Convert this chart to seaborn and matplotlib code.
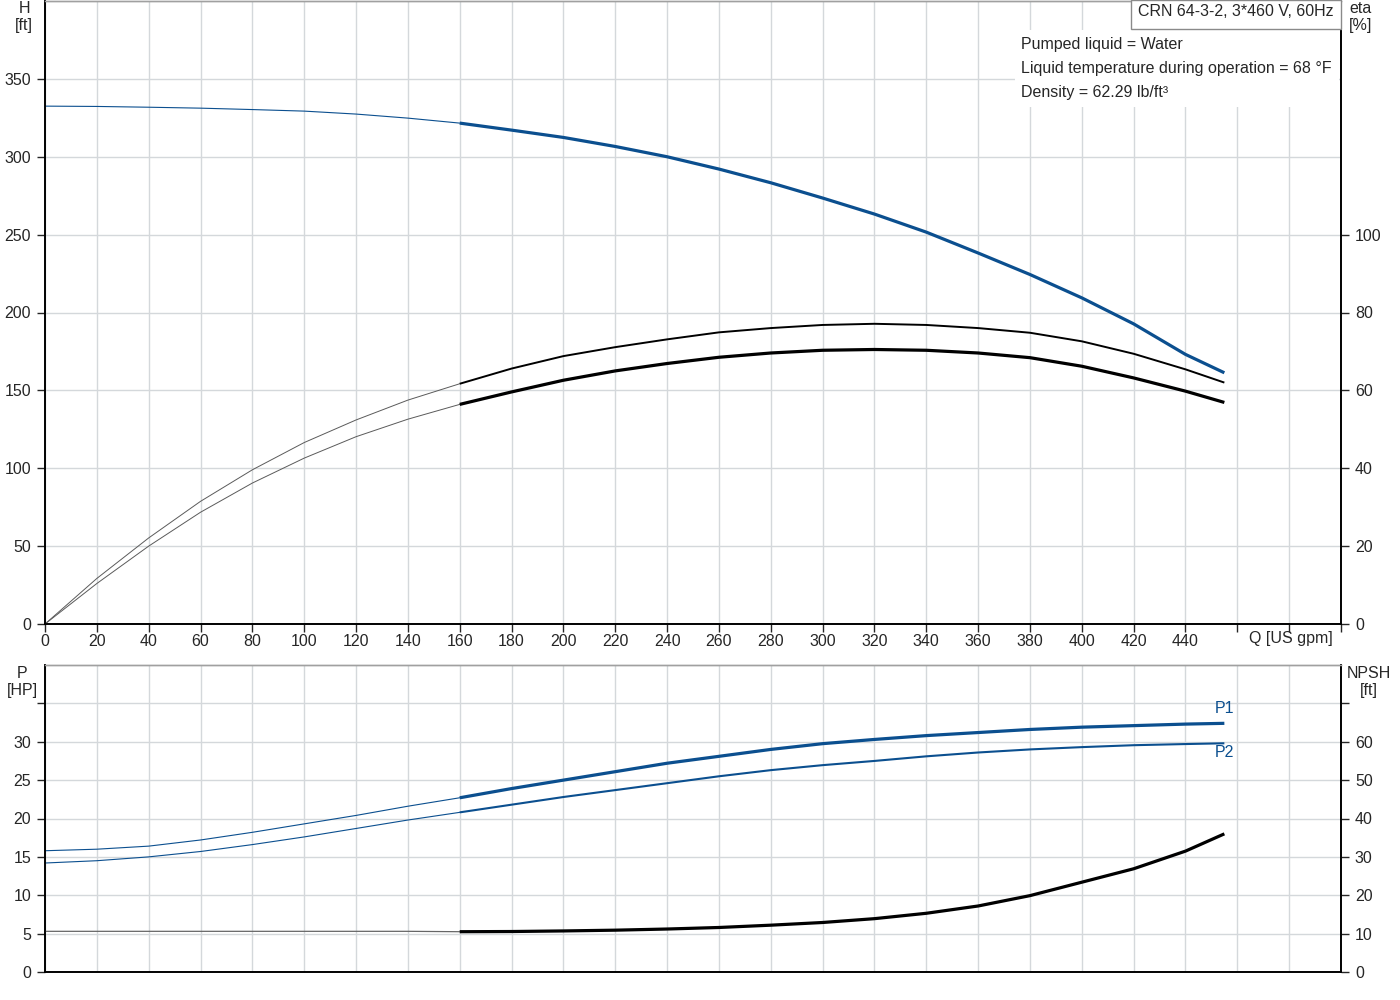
import numpy as np
import seaborn as sns
import matplotlib.pyplot as plt
from matplotlib.patches import Rectangle

# Values (Q in US gpm)
q = [0, 20, 40, 60, 80, 100, 120, 140, 160, 180, 200, 220, 240, 260, 280, 300,
     320, 340, 360, 380, 400, 420, 440, 455]
head = [332.5, 332.3, 331.8, 331.2, 330.3, 329.3, 327.4, 324.8, 321.6, 317.1, 312.4, 306.6,
        300.0, 292.1, 283.3, 273.5, 263.2, 251.6, 238.2, 224.4, 209.4, 192.7, 173.1, 161.3]
eta_pump = [0, 11.7, 22.1, 31.5, 39.6, 46.6, 52.4, 57.5, 61.7, 65.6, 68.8, 71.1,
            73.1, 74.9, 76.0, 76.8, 77.1, 76.8, 76.0, 74.8, 72.6, 69.4, 65.4, 62.0]
eta_total = [0, 10.4, 20.0, 28.7, 36.2, 42.6, 48.1, 52.6, 56.4, 59.6, 62.6, 65.0,
             66.9, 68.5, 69.6, 70.3, 70.5, 70.3, 69.6, 68.4, 66.2, 63.2, 59.8, 56.9]
p1 = [15.8, 16.0, 16.4, 17.2, 18.2, 19.3, 20.4, 21.6, 22.7, 23.9, 25.0, 26.1,
      27.2, 28.1, 29.0, 29.75, 30.3, 30.8, 31.2, 31.6, 31.9, 32.1, 32.3, 32.4]
p2 = [14.2, 14.5, 15.0, 15.7, 16.6, 17.6, 18.7, 19.8, 20.8, 21.8, 22.8, 23.7,
      24.6, 25.5, 26.3, 26.95, 27.5, 28.1, 28.6, 29.0, 29.3, 29.55, 29.7, 29.8]
npsh = [10.6, 10.6, 10.6, 10.6, 10.6, 10.6, 10.6, 10.6, 10.5, 10.55, 10.7, 10.9,
        11.2, 11.6, 12.2, 12.9, 13.9, 15.3, 17.2, 19.9, 23.4, 26.9, 31.5, 36.0]

q_start = 160  # start of the recommended operating range (thick line)

blue = '#0b4f8f'
grid_c = '#d4d8db'

sns.set_style('white')
plt.rcParams['font.family'] = ['Liberation Sans', 'DejaVu Sans']
plt.rcParams['font.size'] = 11.5

q_arr = np.array(q)
lo = q_arr <= q_start
hi = q_arr >= q_start


def draw(ax, y, color, thin_color, thin_lw, thick_lw):
    y = np.array(y)
    sns.lineplot(x=q_arr[lo], y=y[lo], ax=ax, color=thin_color, linewidth=thin_lw,
                 solid_joinstyle='round')
    sns.lineplot(x=q_arr[hi], y=y[hi], ax=ax, color=color, linewidth=thick_lw,
                 solid_capstyle='butt', solid_joinstyle='round')


def style(ax, axr):
    for a in (ax, axr):
        for s in ('left', 'right', 'bottom'):
            a.spines[s].set_color('black')
            a.spines[s].set_linewidth(1.2)
        a.spines['top'].set_color('#a0a0a0')
        a.spines['top'].set_linewidth(1.0)
        a.set_xlabel('')
        a.set_ylabel('')
    ax.set_xlim(0, 500)
    ax.set_xticks(range(0, 501, 20))
    ax.grid(True, color=grid_c, linewidth=1.0)
    ax.set_axisbelow(True)
    ax.tick_params(axis='y', direction='out', length=6, width=1, pad=4, left=True)
    axr.tick_params(axis='y', direction='out', length=6, width=1, pad=4, right=True)


fig = plt.figure(figsize=(14, 10), dpi=100)
ax1 = fig.add_axes([45 / 1400, 1 - 624 / 1000, 1296 / 1400, 623 / 1000])
ax1r = ax1.twinx()
ax2 = fig.add_axes([45 / 1400, 1 - 972 / 1000, 1296 / 1400, 307 / 1000])
ax2r = ax2.twinx()

# top panel: head and efficiencies
draw(ax1, head, blue, blue, 0.8, 2.3)
draw(ax1r, eta_pump, 'black', '#5a5a5a', 0.7, 1.4)
draw(ax1r, eta_total, 'black', '#5a5a5a', 0.7, 2.3)

style(ax1, ax1r)
ax1.set_ylim(0, 400)
ax1.set_yticks(range(0, 351, 50))
ax1r.set_ylim(0, 160)
ax1r.set_yticks(range(0, 101, 20))
ax1.set_xticklabels([str(v) if v <= 440 else '' for v in range(0, 501, 20)])
ax1.tick_params(axis='x', direction='out', length=6, width=1, pad=1.5, bottom=True)

# bottom panel: power and NPSH
draw(ax2, p1, blue, blue, 0.8, 2.3)
draw(ax2, p2, blue, blue, 0.8, 1.5)
draw(ax2r, npsh, 'black', '#666666', 0.9, 2.3)

style(ax2, ax2r)
ax2.set_ylim(0, 40)
ax2.set_yticks(range(0, 36, 5))
ax2.set_yticklabels([str(v) if v <= 30 else '' for v in range(0, 36, 5)])
ax2r.set_ylim(0, 80)
ax2r.set_yticks(range(0, 71, 10))
ax2r.set_yticklabels([str(v) if v <= 60 else '' for v in range(0, 71, 10)])
ax2.set_xticklabels([])
ax2.tick_params(axis='x', length=0)

ax2.annotate('P1', xy=(q[-1], p1[-1]), xytext=(0, 11), textcoords='offset points',
             ha='center', va='center', color=blue)
ax2.annotate('P2', xy=(q[-1], p2[-1]), xytext=(0, -6.5), textcoords='offset points',
             ha='center', va='center', color=blue)

# axis titles
fig.text(24 / 1400, 1 - 17 / 1000, 'H\n[ft]', ha='center', va='center', linespacing=1.1)
fig.text(1361 / 1400, 1 - 17 / 1000, 'eta\n[%]', ha='center', va='center', linespacing=1.1)
fig.text(22 / 1400, 1 - 682 / 1000, 'P\n[HP]', ha='center', va='center', linespacing=1.1)
fig.text(1369 / 1400, 1 - 682 / 1000, 'NPSH\n[ft]', ha='center', va='center', linespacing=1.1)
fig.text(1333 / 1400, 1 - 639 / 1000, 'Q [US gpm]', ha='right', va='center')

# info boxes
fig.add_artist(Rectangle((1131 / 1400, 1 - 29 / 1000), 210 / 1400, 29 / 1000,
                         transform=fig.transFigure, fc='white', ec='#8a8a8a', lw=1.0, zorder=5))
fig.text(1138 / 1400, 1 - 12 / 1000, 'CRN 64-3-2, 3*460 V, 60Hz', va='center', zorder=6)
fig.add_artist(Rectangle((1015 / 1400, 1 - 107 / 1000), 324 / 1400, 77 / 1000,
                         transform=fig.transFigure, fc='white', ec='none', zorder=4))
fig.text(1021 / 1400, 1 - 44 / 1000, 'Pumped liquid = Water', va='center', zorder=6)
fig.text(1021 / 1400, 1 - 68 / 1000, 'Liquid temperature during operation = 68 °F',
         va='center', zorder=6)
fig.text(1021 / 1400, 1 - 92 / 1000, 'Density = 62.29 lb/ft³', va='center', zorder=6)

fig.savefig('out.png', dpi=100, facecolor='white')
